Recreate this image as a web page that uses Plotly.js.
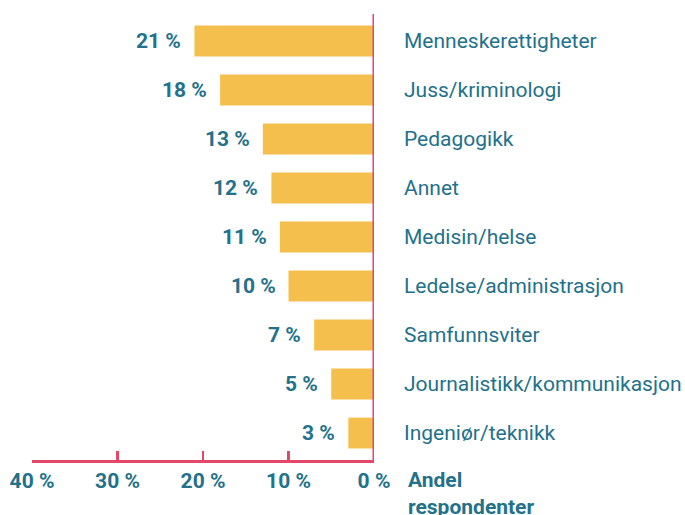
<!DOCTYPE html>
<html>
<head>
<meta charset="utf-8">
<script src="https://cdn.plot.ly/plotly-3.0.1.min.js"></script>
<style>html,body{margin:0;padding:0;background:#fff;}#chart{width:685px;height:515px;}</style>
</head>
<body>
<div id="chart"></div>
<script>
const categories = ["Menneskerettigheter","Juss/kriminologi","Pedagogikk","Annet","Medisin/helse","Ledelse/administrasjon","Samfunnsviter","Journalistikk/kommunikasjon","Ingeniør/teknikk"];
const values = [21, 18, 13, 12, 11, 10, 7, 5, 3];
const tickValues = [40, 30, 20, 10, 0];
const tickLabels = ["40 %", "30 %", "20 %", "10 %", "0 %"];
const axisTitle = "Andel<br>respondenter";

const teal = "#23718A", pink = "#E3476A", yellow = "#F4BF4C";
const fontFam = "Roboto, 'Open Sans', sans-serif";

const annotations = [];
categories.forEach((c, i) => {
  annotations.push({x: 1, xref: "paper", y: c, yref: "y", xanchor: "left", xshift: 28, text: c, showarrow: false,
    font: {family: fontFam, size: 21, color: teal}});
  annotations.push({x: values[i], xref: "x", y: c, yref: "y", xanchor: "right", xshift: -11, text: values[i] + " %", showarrow: false,
    font: {family: fontFam, size: 21, color: teal, weight: 700}});
});
annotations.push({x: 1, xref: "paper", y: 0, yref: "paper", xanchor: "left", yanchor: "top", xshift: 32, yshift: -6,
  text: axisTitle, align: "left", showarrow: false, font: {family: fontFam, size: 21, color: teal, weight: 700}});

const data = [{
  type: "bar", orientation: "h", y: categories, x: values,
  marker: {color: yellow}, width: 0.63, hoverinfo: "none"
}];

const layout = {
  width: 685, height: 515,
  margin: {l: 32, r: 311, t: 14, b: 55},
  paper_bgcolor: "#fff", plot_bgcolor: "#fff",
  showlegend: false,
  xaxis: {range: [40, 0], tickvals: tickValues, ticktext: tickLabels, showgrid: false, zeroline: false,
    showline: true, linecolor: pink, linewidth: 2.5, ticks: "inside", ticklen: 9, tickwidth: 2.5, tickcolor: pink,
    ticklabelstandoff: 0, tickfont: {family: fontFam, size: 21, color: teal, weight: 700}, fixedrange: true},
  yaxis: {type: "category", range: [8.55, -0.55], showticklabels: false, showgrid: false, zeroline: false,
    showline: false, ticks: "", fixedrange: true},
  shapes: [{type: "line", xref: "x", yref: "paper", x0: 0, x1: 0, y0: 0, y1: 1, line: {color: pink, width: 3}}],
  annotations: annotations
};
Plotly.newPlot("chart", data, layout, {displayModeBar: false, staticPlot: true});
</script>
</body>
</html>
